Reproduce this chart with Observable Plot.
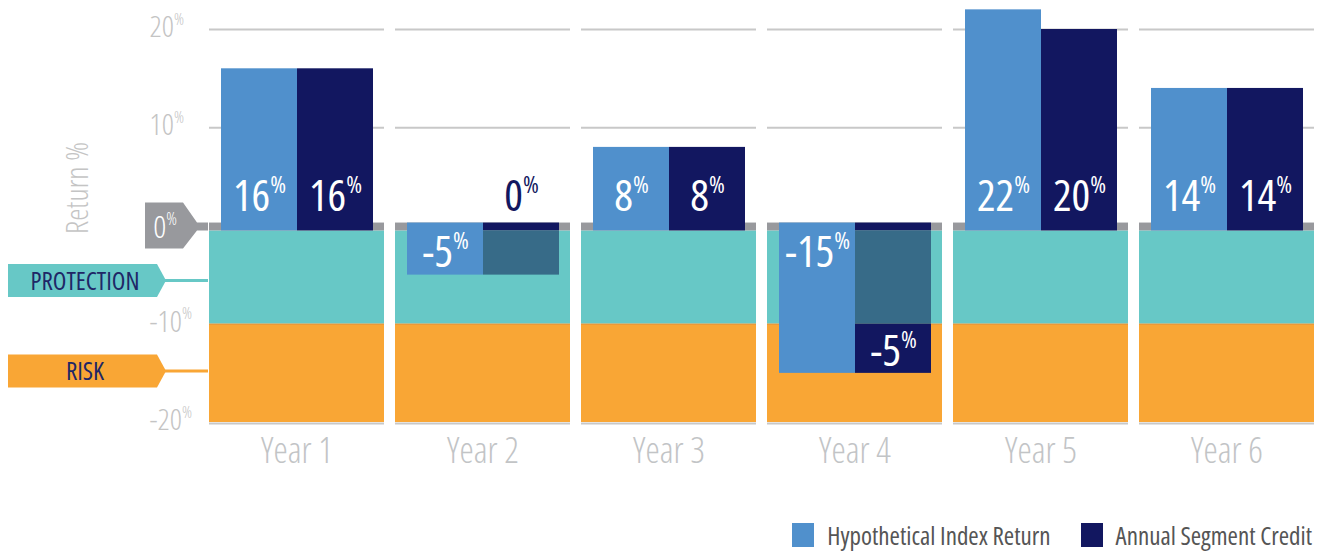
<!DOCTYPE html>
<html>
<head>
<meta charset="utf-8">
<script src="https://cdn.jsdelivr.net/npm/d3@7"></script>
<script src="https://cdn.jsdelivr.net/npm/@observablehq/plot@0.6"></script>
<style>
  body { margin: 0; background: #fff; font-family: "Open Sans", sans-serif; font-stretch: 75%; }
  #legend { display: flex; justify-content: flex-end; align-items: center; margin-top: 26px; padding-right: 13px; font-size: 25px; font-weight: 400; color: #555; }
  .item { display: flex; align-items: center; margin-left: 30px; }
  .sw { width: 22px; height: 24px; margin-right: 13px; }
  svg text { font-stretch: 75%; }
</style>
</head>
<body>
<div id="chart"></div>
<div id="legend"></div>
<script>
// ---- data ----
const years = ["Year 1", "Year 2", "Year 3", "Year 4", "Year 5", "Year 6"];
const indexReturn = [16, -5, 8, -15, 22, 14];
const segmentCredit = [16, 0, 8, -5, 20, 14];
const seriesNames = ["Hypothetical Index Return", "Annual Segment Credit"];
const yTicks = [20, 10, -10, -20];
const protectionBuffer = 10;   // protection zone: 0% to -10%
const riskFloor = -20;         // risk zone: -10% to -20%

// ---- styling ----
const FONT = '"Open Sans", sans-serif';
const C = {
  index: "#5090cc", credit: "#121760", protected: "#376b88",
  teal: "#67c8c6", orange: "#f9a635", zero: "#98999d", grid: "#c8c8c8",
  tick: "#c4c4c4", navyText: "#1f2766"
};
const BAND_TOP = 0.3, BAND_BOTTOM = -0.5;

const bars = [];
years.forEach((year, i) => {
  const r = indexReturn[i], c = segmentCredit[i];
  bars.push({year, series: seriesNames[0], kind: "index", y1: r > 0 ? BAND_BOTTOM : BAND_TOP, y2: r});
  if (c > 0) {
    bars.push({year, series: seriesNames[1], kind: "credit", y1: BAND_BOTTOM, y2: c});
  } else {
    bars.push({year, series: seriesNames[1], kind: "credit", y1: BAND_TOP, y2: BAND_BOTTOM});
    if (r < 0) bars.push({year, series: seriesNames[1], kind: "protected", y1: BAND_BOTTOM, y2: Math.max(r, -protectionBuffer)});
    if (c < 0) bars.push({year, series: seriesNames[1], kind: "credit", y1: -protectionBuffer, y2: -protectionBuffer + c});
  }
});

const labels = [];
years.forEach((year, i) => {
  const r = indexReturn[i], c = segmentCredit[i];
  labels.push({year, series: seriesNames[0], text: String(r), pos: r >= 0 ? "base" : "top", y: 0, on: true});
  labels.push({year, series: seriesNames[1], text: String(c), pos: c >= 0 ? "base" : "end",
               y: c < 0 ? -protectionBuffer + c : 0, on: c !== 0});
});

const lblOpts = {fx: "year", x: "series", y: "y", text: "text", fontSize: 44, fontWeight: 400};

const plot = Plot.plot({
  width: 1325, height: 492,
  marginTop: 29, marginBottom: 70, marginLeft: 208, marginRight: 11,
  style: {fontFamily: FONT, background: "#fff", overflow: "visible"},
  fx: {domain: years, paddingInner: 0.06, paddingOuter: 0, label: null},
  x: {domain: seriesNames, paddingInner: 0, paddingOuter: 0.14, axis: null},
  y: {domain: [riskFloor, 20], label: null},
  color: {domain: ["index", "credit", "protected"], range: [C.index, C.credit, C.protected]},
  marks: [
    Plot.ruleY([20, 10], {stroke: C.grid, strokeWidth: 2}),
    Plot.barY([0], {y1: BAND_BOTTOM, y2: -protectionBuffer, fill: C.teal}),
    Plot.barY([0], {y1: -protectionBuffer, y2: riskFloor, fill: C.orange}),
    Plot.ruleY([-protectionBuffer], {stroke: "#e8953a", strokeWidth: 1}),
    Plot.ruleY([riskFloor], {stroke: C.grid, strokeWidth: 2, dy: 1}),
    Plot.barY([0], {y1: BAND_TOP, y2: BAND_BOTTOM, fill: C.zero}),
    Plot.barY(bars, {fx: "year", x: "series", y1: "y1", y2: "y2", fill: "kind"}),
    Plot.text(labels.filter(d => d.pos === "base" && d.on), {...lblOpts, fill: "#fff", dy: -29}),
    Plot.text(labels.filter(d => d.pos === "base" && !d.on), {...lblOpts, fill: C.credit, dy: -29}),
    Plot.text(labels.filter(d => d.pos === "top"), {...lblOpts, fill: "#fff", dy: 27}),
    Plot.text(labels.filter(d => d.pos === "end"), {...lblOpts, fill: "#fff", dy: -21}),
    Plot.axisY({ticks: yTicks, tickSize: 0, tickPadding: 0, textAnchor: "start", dx: -60, dy: -2,
                fontSize: 30, fontWeight: 300, color: C.tick, label: null, tickFormat: d => String(d)}),
    Plot.axisFx({anchor: "bottom", tickSize: 0, tickPadding: 15, fontSize: 36, fontWeight: 300, color: "#c2c4c6", label: null})
  ]
});

document.getElementById("chart").appendChild(plot);

const svg = d3.select(plot);
svg.selectAll("text").each(function() {
  const t = this.textContent;
  if (!/^-?\d+$/.test(t)) return;
  const s = d3.select(this);
  s.text(t);
  s.append("tspan").attr("font-size", "0.55em").attr("dy", "-0.75em").text("%");
});

const ys = plot.scale("y");
const yt = ys.apply(BAND_TOP), yb = ys.apply(BAND_BOTTOM);
const tags = svg.append("g").attr("font-family", FONT);
tags.append("path")
  .attr("d", `M145,${yt - 20}H183L197,${yt}H208V${yb}H197L183,${yb + 18}H145Z`)
  .attr("fill", C.zero);
const zt = tags.append("text").attr("x", 165).attr("y", (yt + yb) / 2).attr("dy", "0.36em")
  .attr("text-anchor", "middle").attr("fill", "#fff").attr("font-size", 32).attr("font-weight", 300).text("0");
zt.append("tspan").attr("font-size", "0.55em").attr("dy", "-0.75em").text("%");

function zoneTag(label, value, color) {
  const cy = ys.apply(value);
  tags.append("path").attr("d", `M8,${cy - 16.5}H157L166,${cy}L157,${cy + 16.5}H8Z`).attr("fill", color);
  tags.append("line").attr("x1", 165).attr("x2", 208).attr("y1", cy).attr("y2", cy)
    .attr("stroke", color).attr("stroke-width", 3);
  tags.append("text").attr("x", 85).attr("y", cy).attr("dy", "0.36em").attr("text-anchor", "middle")
    .attr("fill", C.navyText).attr("font-size", 25).attr("font-weight", 400).text(label);
}
zoneTag("PROTECTION", -5.6, C.teal);
zoneTag("RISK", -14.8, C.orange);

tags.append("text").attr("transform", "translate(77,188) rotate(-90)").attr("dy", "0.36em")
  .attr("text-anchor", "middle").attr("fill", C.tick).attr("font-size", 31).attr("font-weight", 300).text("Return %");

const legend = d3.select("#legend");
[[seriesNames[0], C.index], [seriesNames[1], C.credit]].forEach(([name, col]) => {
  const it = legend.append("div").attr("class", "item");
  it.append("div").attr("class", "sw").style("background", col);
  it.append("span").text(name);
});
</script>
</body>
</html>
